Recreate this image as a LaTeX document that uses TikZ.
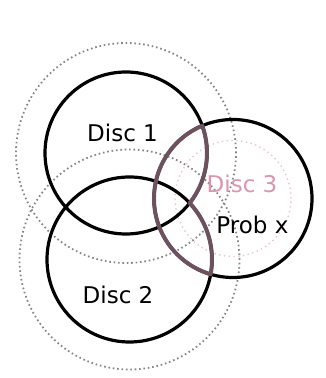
\documentclass[tikz,border=0pt]{standalone}
\usepackage{fontspec}
\setmainfont{DejaVu Sans}
\usepackage{tikz}
\usepackage{xcolor}
\definecolor{overlap}{RGB}{108,82,94}
\definecolor{discpink}{RGB}{218,150,172}
\definecolor{halo}{RGB}{135,135,135}

\begin{document}
\begin{tikzpicture}[
    x=1pt, y=1pt,
    font=\fontsize{23}{27}\selectfont,
    disc/.style={draw=black, line width=3.2pt},
    halo/.style={draw=halo, line width=1.8pt, dash pattern=on 1.6pt off 2.8pt},
    inner/.style={draw=discpink!55, line width=1.4pt, dash pattern=on 1.4pt off 3.4pt},
    rim/.style={draw=overlap, line width=4pt, line join=round},
    lbl/.style={anchor=base, inner sep=0pt},
]
\useasboundingbox (0,0) rectangle (326,378);

% ── Dotted halos ─────────────────────────────────────────────
\draw[halo] (126,225) circle[radius=110pt];
\draw[halo] (129.5,118.5) circle[radius=110pt];
\draw[inner] (233,179.5) circle[radius=58pt];

% ── Discs ────────────────────────────────────────────────────
\draw[disc] (126,225) circle[radius=81pt];
\draw[disc] (129.5,118.5) circle[radius=82.5pt];
\draw[disc] (233,179.5) circle[radius=79pt];

% ── Boundary of disc 3 within discs 1 and 2 ──────────────────
\draw[rim] (233,179.5) ++(112.89:79pt)
    arc[start angle=112.89, end angle=253.58, radius=79pt]
    arc[start angle=-10.32, end angle=43.16, radius=82.5pt]
    arc[start angle=-38.17, end angle=19.68, radius=81pt] -- cycle;

% ── Labels ───────────────────────────────────────────────────
\node[lbl] (lbl1) at (122.5,236) {Disc 1};
\node[lbl] (lbl2) at (118,74) {Disc 2};
\node[lbl, text=discpink] (lbl3) at (242,185) {Disc 3};
\node[lbl] (lblx) at (252.5,144) {Prob x};

\end{tikzpicture}
\end{document}
